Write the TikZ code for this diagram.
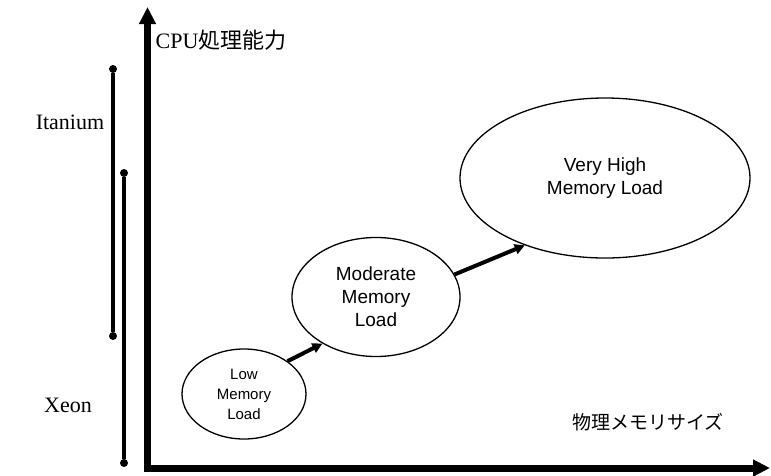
\documentclass[tikz,border=0pt]{standalone}
\usepackage{fontspec}
\setmainfont{Liberation Serif}
\setsansfont{Liberation Sans}
\newfontfamily\jpfont{Noto Sans CJK JP}
\usetikzlibrary{arrows.meta,shapes.geometric}
\begin{document}
\begin{tikzpicture}[x=1pt,y=-1pt,
  axis/.style={line width=7pt,{Triangle[length=17pt,width=16pt]}-{Triangle[length=17pt,width=16pt]},line join=miter},
  bar/.style={line width=3.5pt},
  dot/.style={circle,fill=black,inner sep=0pt,minimum size=8pt},
  load/.style={ellipse,draw,line width=1.3pt,inner sep=0pt,align=center},
  flow/.style={line width=4pt,-{Triangle[length=10pt,width=10pt]}},
  lbl/.style={font=\fontsize{22}{26}\selectfont}]
\useasboundingbox (0,0) rectangle (771,475);
% axes
\coordinate (ytip) at (147.5,7);
\coordinate (corner) at (147.5,468);
\coordinate (xtip) at (770,468);
\draw[axis] (ytip) -- (corner) -- (xtip);
% processor ranges
\node[dot] (it1) at (113,69) {};
\node[dot] (it2) at (113,336) {};
\node[dot] (xe1) at (124,173) {};
\node[dot] (xe2) at (124,463) {};
\draw[bar] (it1) -- (it2);
\draw[bar] (xe1) -- (xe2);
% loads
\node[load,minimum width=124pt,minimum height=90pt,font=\sffamily\fontsize{15}{20}\selectfont] (low) at (244,394) {Low\\Memory\\Load};
\node[load,minimum width=168pt,minimum height=119pt,font=\sffamily\fontsize{19}{23}\selectfont] (mod) at (376,297) {Moderate\\Memory\\Load};
\node[load,minimum width=290pt,minimum height=160pt,font=\sffamily\fontsize{19}{23}\selectfont] (vh) at (605,178) {Very High\\Memory Load};
\draw[flow] (low.37) -- (mod.221);
\draw[flow] (mod.16) -- (vh.220);
% labels
\node[lbl] (cpu) at (221,40) {CPU{\jpfont 処理能力}};
\node[lbl] (ita) at (70,122) {Itanium};
\node[lbl] (xeon) at (68,405) {Xeon};
\node[font=\jpfont\fontsize{19}{23}\selectfont] (mem) at (648,422) {物理メモリサイズ};
\end{tikzpicture}
\end{document}
